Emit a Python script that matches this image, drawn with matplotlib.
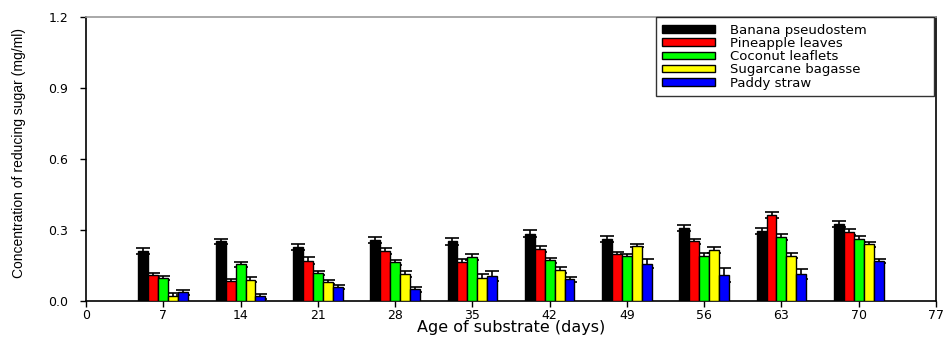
import numpy as np
import matplotlib
matplotlib.use("Agg")
import matplotlib.pyplot as plt

days = [7, 14, 21, 28, 35, 42, 49, 56, 63, 70]
labels = ["Banana pseudostem", "Pineapple leaves", "Coconut leaflets",
          "Sugarcane bagasse", "Paddy straw"]
colors = ["#000000", "#ff0000", "#00ff00", "#ffff00", "#0000ff"]

banana = [0.212, 0.252, 0.228, 0.258, 0.253, 0.284, 0.262, 0.307, 0.297, 0.324]
pineapple = [0.108, 0.083, 0.170, 0.212, 0.166, 0.218, 0.197, 0.252, 0.363, 0.290]
coconut = [0.096, 0.155, 0.118, 0.163, 0.187, 0.172, 0.189, 0.191, 0.270, 0.263]
sugarcane = [0.021, 0.090, 0.080, 0.114, 0.099, 0.131, 0.234, 0.215, 0.191, 0.239]
paddy = [0.037, 0.020, 0.059, 0.050, 0.104, 0.092, 0.158, 0.110, 0.114, 0.168]

banana_err = [0.013, 0.012, 0.014, 0.012, 0.015, 0.014, 0.011, 0.013, 0.013, 0.013]
pineapple_err = [0.010, 0.011, 0.014, 0.013, 0.013, 0.013, 0.012, 0.012, 0.012, 0.013]
coconut_err = [0.008, 0.010, 0.010, 0.010, 0.013, 0.010, 0.011, 0.012, 0.013, 0.013]
sugarcane_err = [0.011, 0.010, 0.010, 0.011, 0.013, 0.011, 0.006, 0.012, 0.010, 0.012]
paddy_err = [0.011, 0.010, 0.010, 0.010, 0.021, 0.011, 0.019, 0.031, 0.020, 0.009]

series = [banana, pineapple, coconut, sugarcane, paddy]
errors = [banana_err, pineapple_err, coconut_err, sugarcane_err, paddy_err]

plt.rcParams['font.family'] = ['DejaVu Sans']

fig = plt.figure(figsize=(9.43, 3.38), dpi=100)
ax = fig.add_axes([86 / 943, 1 - 301 / 338, 850 / 943, 284 / 338])

width = 0.9
x = np.array(days, dtype=float)
for i, (vals, errs) in enumerate(zip(series, errors)):
    pos = x + (i - 2) * width
    ax.errorbar(pos, vals, yerr=errs, fmt='none', ecolor='black',
                elinewidth=1.2, capsize=5, capthick=1.2, zorder=2)
    ax.bar(pos, vals, width=width, color=colors[i], edgecolor='black',
           linewidth=1.0, label=labels[i], zorder=3)

ax.set_xlim(0, 77)
ax.set_ylim(0, 1.2)
ax.set_xticks(np.arange(0, 78, 7))
ax.set_yticks([0.0, 0.3, 0.6, 0.9, 1.2])
ax.set_yticklabels(["0.0", "0.3", "0.6", "0.9", "1.2"])
ax.tick_params(direction='out', length=4, width=1, labelsize=9)
ax.tick_params(axis='x', pad=1.5)
ax.tick_params(axis='y', pad=9)
for s in ax.spines.values():
    s.set_linewidth(1.2)
ax.spines['top'].set_color('#999999')

ax.set_xlabel("Age of substrate (days)", fontsize=11.5)
ax.xaxis.set_label_coords(0.5, -0.068)
ax.set_ylabel("Concentration of reducing sugar (mg/ml)", fontsize=10,
              family=['Liberation Sans Narrow', 'Liberation Sans'])
ax.yaxis.set_label_coords(-0.071, 0.52)

leg = ax.legend(loc='upper right', bbox_to_anchor=(632 / 943, 0, 1 - 632 / 943 - 2 / 943, 1),
                bbox_transform=ax.transAxes, mode='expand',
                fontsize=9.5, frameon=True, fancybox=False,
                edgecolor='black', handlelength=4.0, handleheight=0.5,
                labelspacing=0.02, borderpad=0.5, borderaxespad=0.0,
                handletextpad=1.1)
leg.get_frame().set_linewidth(1.0)

fig.savefig("out.png", dpi=100)
